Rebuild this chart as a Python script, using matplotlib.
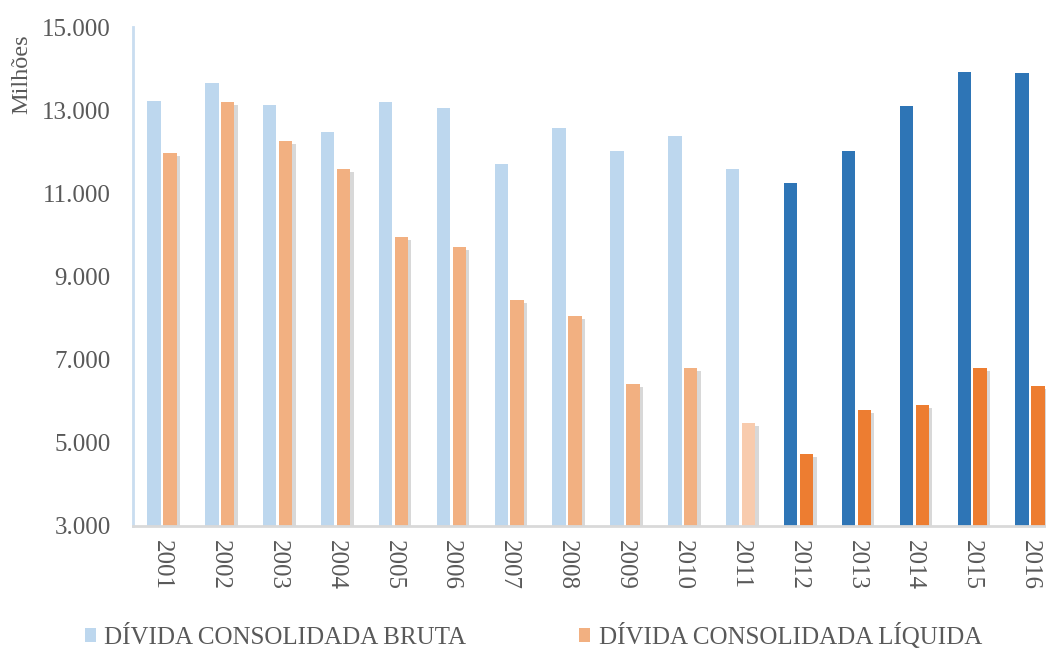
import matplotlib
matplotlib.use("Agg")
import matplotlib.pyplot as plt
import matplotlib.patheffects as pe
from matplotlib.patches import Patch
from matplotlib.ticker import FuncFormatter
import numpy as np

# Data (millions)
years = ["2001", "2002", "2003", "2004", "2005", "2006", "2007", "2008",
         "2009", "2010", "2011", "2012", "2013", "2014", "2015", "2016"]
divida_bruta = [13220, 13650, 13125, 12470, 13200, 13045, 11705, 12565,
                12020, 12380, 11585, 11250, 12020, 13100, 13920, 13900]
divida_liquida = [11960, 13195, 12250, 11585, 9955, 9700, 8435, 8055,
                  6415, 6800, 5470, 4730, 5790, 5900, 6800, 6360]
series_names = ["DÍVIDA CONSOLIDADA BRUTA", "DÍVIDA CONSOLIDADA LÍQUIDA"]
y_ticks = [3000, 5000, 7000, 9000, 11000, 13000, 15000]

plt.rcParams["font.family"] = ["Liberation Serif", "DejaVu Serif"]
TEXT = "#595959"

BLUE_LIGHT, BLUE_DARK = "#BDD7EE", "#2E75B6"
ORANGE_LIGHT, ORANGE_PALE, ORANGE_DARK = "#F2B081", "#F8CBAD", "#ED7D31"

def bruta_color(y):
    return BLUE_DARK if int(y) >= 2012 else BLUE_LIGHT

def liquida_color(y):
    if int(y) >= 2012:
        return ORANGE_DARK
    if int(y) == 2011:
        return ORANGE_PALE
    return ORANGE_LIGHT

fig = plt.figure(figsize=(10.46, 6.48), dpi=100)
W, H = 1046, 648
ax = fig.add_axes([133 / W, 1 - 526 / H, 926 / W, (526 - 27) / H])

x = np.arange(len(years))
bw = 0.23
off = 0.137
shadow = [pe.SimplePatchShadow(offset=(2.5, -2), shadow_rgbFace="#7f7f7f", alpha=0.3),
          pe.Normal()]

b1 = ax.bar(x - off, divida_bruta, width=bw, bottom=0,
            color=[bruta_color(y) for y in years], zorder=2)
b2 = ax.bar(x + off, divida_liquida, width=bw, bottom=0,
            color=[liquida_color(y) for y in years], zorder=2)
for r in list(b2):
    r.set_path_effects(shadow)

ax.set_ylim(3000, 15000)
ax.set_xlim(-0.5, len(years) - 0.5)
ax.set_yticks(y_ticks)
ax.yaxis.set_major_formatter(FuncFormatter(lambda v, p: f"{int(v):,}".replace(",", ".")))
ax.set_xticks(x)
ax.set_xticklabels(years, rotation=-90, va="top", ha="center")
ax.tick_params(axis="y", length=0, pad=16, labelsize=18, labelcolor=TEXT)
ax.tick_params(axis="x", length=0, pad=10, labelsize=18, labelcolor=TEXT)

for s in ["top", "right"]:
    ax.spines[s].set_visible(False)
ax.spines["left"].set_color("#C9DDF0")
ax.spines["left"].set_linewidth(2)
ax.spines["bottom"].set_color("#D9D9D9")
ax.spines["bottom"].set_linewidth(2)
ax.spines["bottom"].set_zorder(3)

fig.text(22 / W, 1 - 74 / H, "Milhões", rotation=90, ha="center", va="center",
         fontsize=17.5, color=TEXT)

handles = [Patch(facecolor=BLUE_LIGHT, edgecolor="none"),
           Patch(facecolor=ORANGE_LIGHT, edgecolor="none")]
leg = fig.legend(handles, series_names, loc="center left",
                 bbox_to_anchor=(62 / W, 1 - 636 / H), ncol=2, frameon=False,
                 fontsize=18, handlelength=0.45, handleheight=0.45,
                 handletextpad=0.35, columnspacing=4.5, labelcolor=TEXT)

fig.savefig("out.png", dpi=100)
